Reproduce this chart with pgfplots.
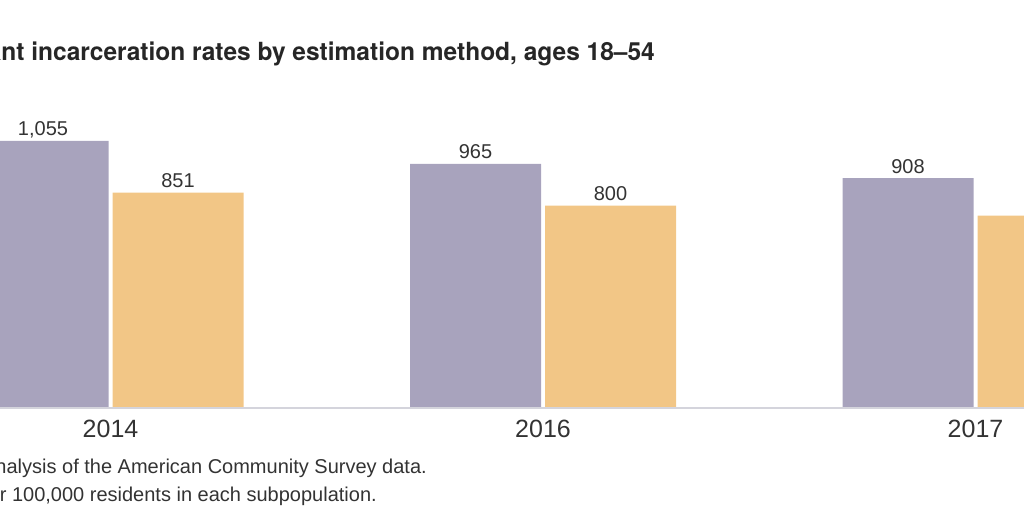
\documentclass[border=0pt]{standalone}
\usepackage{fontspec}
\setmainfont{Liberation Sans}
\newfontfamily\titlefont{TeX Gyre Heros}
\usepackage{pgfplots}
\pgfplotsset{compat=1.18}

\definecolor{barpurple}{HTML}{A8A3BD}
\definecolor{barorange}{HTML}{F2C686}
\definecolor{txt}{HTML}{333333}
\definecolor{basegray}{HTML}{D4D4DC}

\begin{document}
\begin{tikzpicture}
\begin{axis}[
    scale only axis,
    width=1024pt, height=408pt,
    xmin=-0.2555, xmax=2.1121,
    ymin=0, ymax=1612,
    ybar=4pt, bar width=131pt,
    axis x line*=bottom, axis y line=none,
    axis line style={draw=none},
    xtick={0,1,2},
    xticklabels={2014,2016,2017},
    ytick=\empty,
    major tick length=0pt,
    tick style={draw=none},
    xticklabel style={font=\fontsize{25}{30}\selectfont, text=txt, anchor=base, yshift=-29pt, inner sep=0pt},
    /pgf/number format/assume math mode=true,
    /pgf/number format/1000 sep={,},
    nodes near coords,
    every node near coord/.append style={font=\fontsize{20}{24}\selectfont, text=txt, anchor=base, yshift=5pt, inner sep=0pt},
]
\addplot[fill=barpurple, draw=none] coordinates {(0,1055) (1,965) (2,908)};
\addplot[fill=barorange, draw=none] coordinates {(0,851) (1,800) (2,760)};
\end{axis}
\draw[basegray, line width=2pt] (0,0) -- (1024pt,0);
\node[anchor=base east, inner sep=0pt, text=black!85] at (655pt,347pt)
  {\scalebox{0.98}[1]{\titlefont\bfseries\fontsize{25}{30}\selectfont Immigrant incarceration rates by estimation method, ages 18–54}};
\node[anchor=base east, inner sep=0pt, text=txt, font=\fontsize{20}{24}\selectfont] at (427pt,-65pt)
  {Source: Author's analysis of the American Community Survey data.};
\node[anchor=base east, inner sep=0pt, text=txt, font=\fontsize{20}{24}\selectfont] at (377pt,-93pt)
  {Note: Incarceration rates are per 100,000 residents in each subpopulation.};
\pgfresetboundingbox
\path[use as bounding box] (0,-104pt) rectangle (1024pt,408pt);
\end{tikzpicture}
\end{document}
